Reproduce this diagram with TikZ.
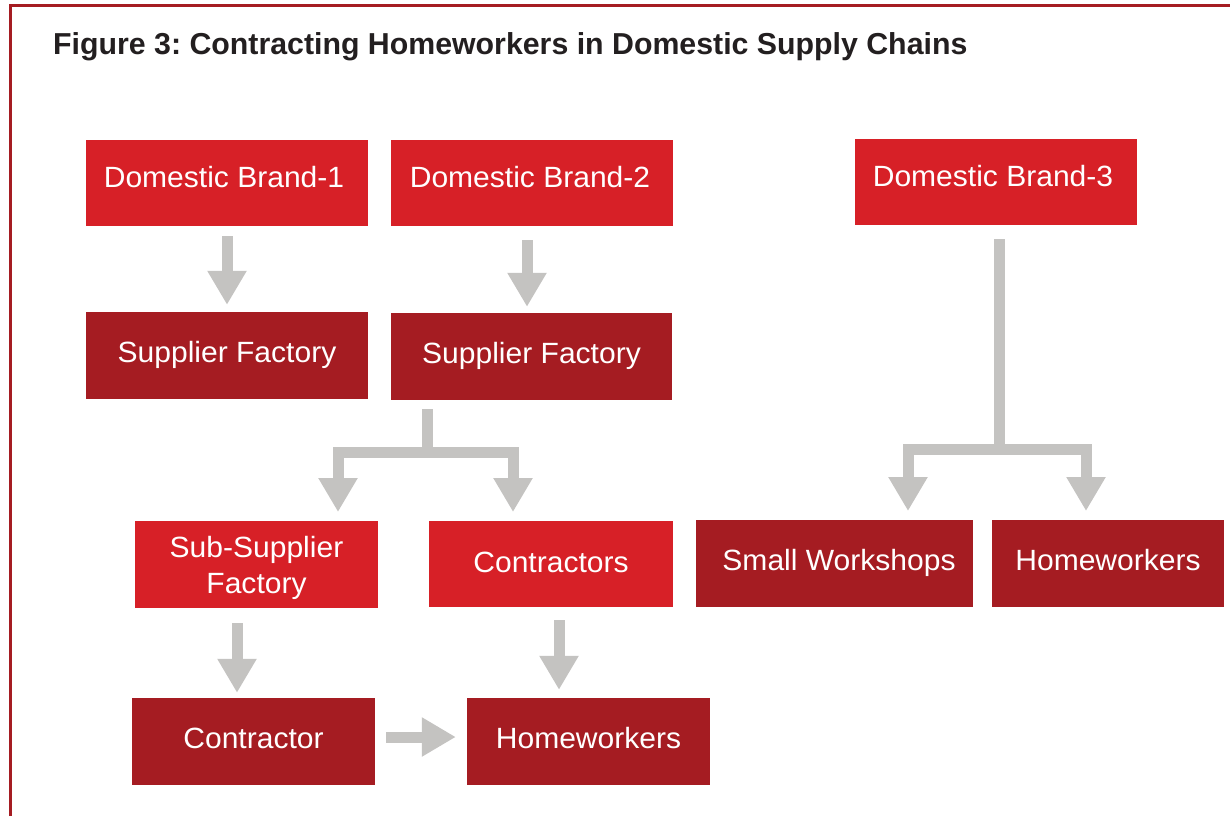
\documentclass[tikz,border=0pt]{standalone}
\usepackage{fontspec}
\setmainfont{Liberation Sans}
\newfontfamily\boxfont[FakeStretch=1.025]{Liberation Sans}
\frenchspacing
\usetikzlibrary{arrows.meta}
\definecolor{brightred}{HTML}{D72027}
\definecolor{darkred}{HTML}{A51C22}
\definecolor{arrgray}{HTML}{C4C3C1}
\definecolor{titlegray}{HTML}{231F20}
\tikzset{
  box/.style={rectangle, inner sep=0pt, text=white, align=center,
    font=\boxfont\fontsize{29.3}{36}\selectfont, text height=21pt},
  brightbox/.style={box, fill=brightred},
  darkbox/.style={box, fill=darkred},
  raise/.style={text depth=#1},
  shaft/.style={draw=arrgray, line width=11pt, line join=miter},
  arr/.style={shaft, -{Triangle[width=37pt,length=34pt]}, arrgray},
}
\begin{document}
\begin{tikzpicture}[x=1pt,y=-1pt]
\useasboundingbox (0,0) rectangle (1230,816);
\fill[white] (0,0) rectangle (1230,816);
% border
\draw[darkred, line width=3pt] (10.5,816) -- (10.5,5.5) -- (1230,5.5);
% title
\node[anchor=base west, inner sep=0pt, text=titlegray, font=\fontsize{30.3}{34}\selectfont\bfseries] (title) at (53,55) {Figure 3: Contracting Homeworkers in Domestic Supply Chains};
% boxes
\node[brightbox, raise=13pt, minimum width=282pt, minimum height=86pt] (db1) at (227,183) {\hspace*{-6pt}Domestic Brand-1};
\node[brightbox, raise=13pt, minimum width=282pt, minimum height=86pt] (db2) at (532,183) {\hspace*{-4pt}Domestic Brand-2};
\node[brightbox, raise=12pt, minimum width=282pt, minimum height=86pt] (db3) at (996,182) {\hspace*{-6pt}Domestic Brand-3};
\node[darkbox, raise=7.6pt, minimum width=282pt, minimum height=87pt] (sf1) at (227,355.5) {Supplier Factory};
\node[darkbox, raise=7.6pt, minimum width=281pt, minimum height=87pt] (sf2) at (531.5,356.5) {Supplier Factory};
\node[brightbox, text height=57pt, text depth=0pt, minimum width=243pt, minimum height=87pt] (sub) at (256.5,564.5) {Sub-Supplier\\Factory};
\node[brightbox, raise=3.4pt, minimum width=244pt, minimum height=86pt] (con) at (551,564) {Contractors};
\node[darkbox, raise=7.5pt, minimum width=277pt, minimum height=87pt] (sw) at (834.5,563.5) {\hspace*{9pt}Small Workshops};
\node[darkbox, raise=6.5pt, minimum width=232pt, minimum height=87pt] (hw1) at (1108,563.5) {Homeworkers};
\node[darkbox, raise=7.5pt, minimum width=243pt, minimum height=87pt] (ctr) at (253.5,741.5) {Contractor};
\node[darkbox, raise=7.5pt, minimum width=243pt, minimum height=87pt] (hw2) at (588.5,741.5) {Homeworkers};
% junctions and tips
\coordinate (j2) at (427,452.5);
\coordinate (t2a) at (338,512);
\coordinate (t2b) at (513,512);
\coordinate (j3) at (999,449.5);
\coordinate (t3a) at (908,511);
\coordinate (t3b) at (1086,511);
% arrows
\draw[arr, shorten <=10pt, shorten >=7pt] (db1.south) -- (sf1.north);
\draw[arr, shorten <=14pt, shorten >=6pt] ([xshift=-5pt]db2.south) -- ([xshift=-4.5pt]sf2.north);
\draw[shaft, shorten <=9pt] ([xshift=-104.5pt]sf2.south) -- (j2);
\draw[arr] (j2) -| (t2a);
\draw[arr] (j2) -| (t2b);
\draw[shaft, shorten <=14pt] ([xshift=3pt]db3.south) -- (j3);
\draw[arr] (j3) -| (t3a);
\draw[arr] (j3) -| (t3b);
\draw[arr, shorten <=15pt, shorten >=5pt] ([xshift=-19.5pt]sub.south) -- ([xshift=-16.5pt]ctr.north);
\draw[arr, shorten <=13pt, shorten >=8pt] ([xshift=8pt]con.south) -- ([xshift=-29.5pt]hw2.north);
\draw[arr, shorten <=11pt, shorten >=11pt] ([yshift=4.5pt]ctr.east) -- ([yshift=4.5pt]hw2.west);
\end{tikzpicture}
\end{document}
